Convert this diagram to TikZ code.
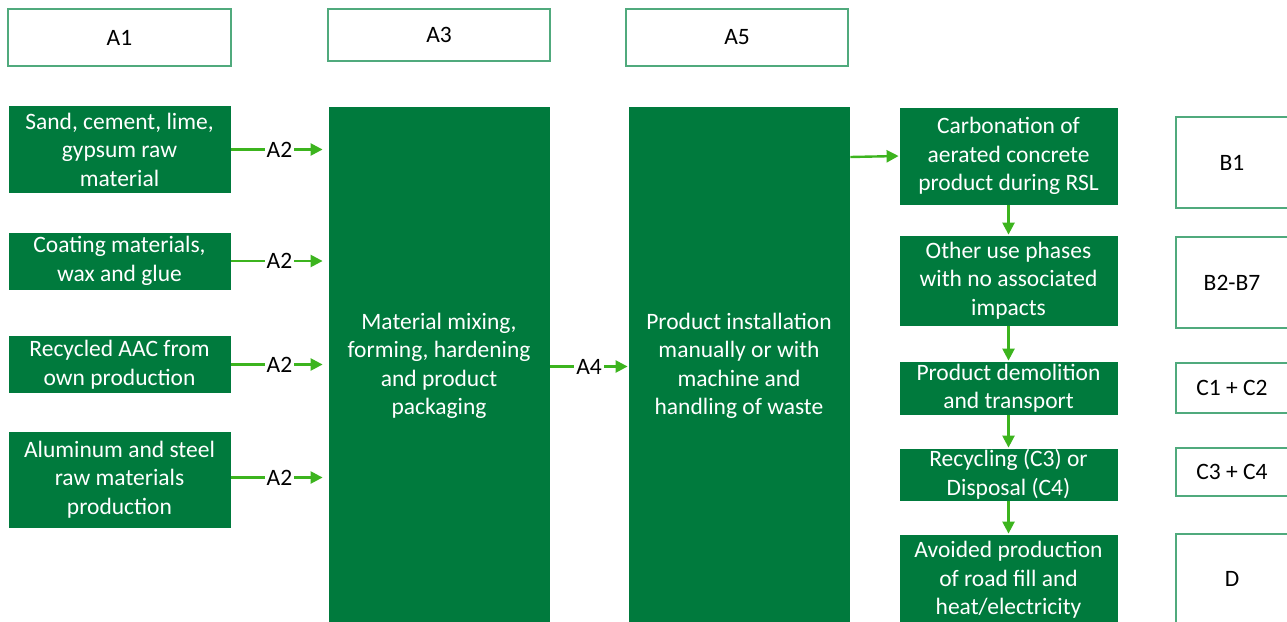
\documentclass[tikz,border=0pt]{standalone}
\usepackage{fontspec}
\setmainfont{Carlito}
\usetikzlibrary{arrows.meta}
\definecolor{ecogreen}{RGB}{0,122,61}
\definecolor{flowgreen}{RGB}{60,180,30}
\definecolor{edgegreen}{RGB}{80,170,125}
\tikzset{
	stagebox/.style={draw=edgegreen, line width=1.6pt, fill=white, text=black, align=center, inner sep=0pt},
	procbox/.style={fill=ecogreen, draw=white, line width=0.8pt, text=white, align=center, inner sep=0pt, minimum width=223pt},
	flow/.style={draw=flowgreen, line width=2.4pt, -{Triangle[length=12pt,width=12pt]}},
	lbl/.style={fill=white, text=black, inner sep=2pt}
}

\begin{document}
\begin{tikzpicture}[x=1pt,y=-1pt,font=\fontsize{23.5}{28.5}\selectfont]
	\useasboundingbox (0,0) rectangle (1287,621);
	\clip (0,0) rectangle (1287,621);
	% stage headers
	\node[stagebox, minimum width=223pt, minimum height=57pt] (a1) at (119.5,37.5){A1};
	\node[stagebox, minimum width=222pt, minimum height=52pt] (a3) at (439,35){A3};
	\node[stagebox, minimum width=222pt, minimum height=57pt] (a5) at (737,37.5){A5};
	% raw materials
	\node[procbox, minimum height=88pt] (sand) at (119.5,149.5){Sand, cement, lime,\\gypsum raw\\material};
	\node[procbox, minimum height=58pt] (coat) at (119.5,261){Coating materials,\\wax and glue};
	\node[procbox, minimum height=58pt] (aac) at (119.5,364.5){Recycled AAC from\\own production};
	\node[procbox, minimum height=97pt] (alu) at (119.5,479.5){Aluminum and steel\\raw materials\\production};
	% production and installation
	\node[procbox, minimum width=222pt, minimum height=520pt] (mix) at (439,366){Material mixing,\\forming, hardening\\and product\\packaging};
	\node[procbox, minimum width=222pt, minimum height=520pt] (inst) at (739,366){Product installation\\manually or with\\machine and\\handling of waste};
	% use and end of life
	\node[procbox, minimum width=219pt, minimum height=98pt] (carb) at (1008.5,156){Carbonation of\\aerated concrete\\product during RSL};
	\node[procbox, minimum width=219pt, minimum height=91pt] (use) at (1008.5,280.5){Other use phases\\with no associated\\impacts};
	\node[procbox, minimum width=219pt, minimum height=54pt] (demo) at (1008.5,388){Product demolition\\and transport};
	\node[procbox, minimum width=219pt, minimum height=53pt] (recy) at (1008.5,474.5){Recycling (C3) or\\Disposal (C4)};
	\node[procbox, minimum width=219pt, minimum height=92pt] (avoid) at (1008.5,580){Avoided production\\of road fill and\\heat/electricity};
	% module labels
	\node[stagebox, minimum width=112pt, minimum height=91pt] (b1) at (1232,162.5){B1};
	\node[stagebox, minimum width=112pt, minimum height=91pt] (b27) at (1232,282.5){B2-B7};
	\node[stagebox, minimum width=112pt, minimum height=50pt] (c12) at (1232,388){C1 + C2};
	\node[stagebox, minimum width=112pt, minimum height=48pt] (c34) at (1232,472){C3 + C4};
	\node[stagebox, minimum width=112pt, minimum height=90pt] (d) at (1232,579){D};
	% flows
	\draw[flow, shorten >=5pt] (sand.east) --node[lbl]{A2} (mix.west |- sand.east);
	\draw[flow, shorten >=5pt] (coat.east) --node[lbl]{A2} (mix.west |- coat.east);
	\draw[flow, shorten >=5pt] (aac.east) --node[lbl]{A2} (mix.west |- aac.east);
	\draw[flow, shorten >=5pt] ([yshift=2pt]alu.east) --node[lbl]{A2} ([yshift=2pt]mix.west |- alu.east);
	\draw[flow] ([yshift=-2pt]mix.east |- aac.east) --node[lbl]{A4} ([yshift=-2pt]inst.west |- aac.east);
	\draw[flow] (inst.east |- 0,157) -- (carb.west);
	\draw[flow] (carb) -- (use);
	\draw[flow] (use) -- (demo);
	\draw[flow] (demo) -- (recy);
	\draw[flow] (recy) -- (avoid);
\end{tikzpicture}
\end{document}
